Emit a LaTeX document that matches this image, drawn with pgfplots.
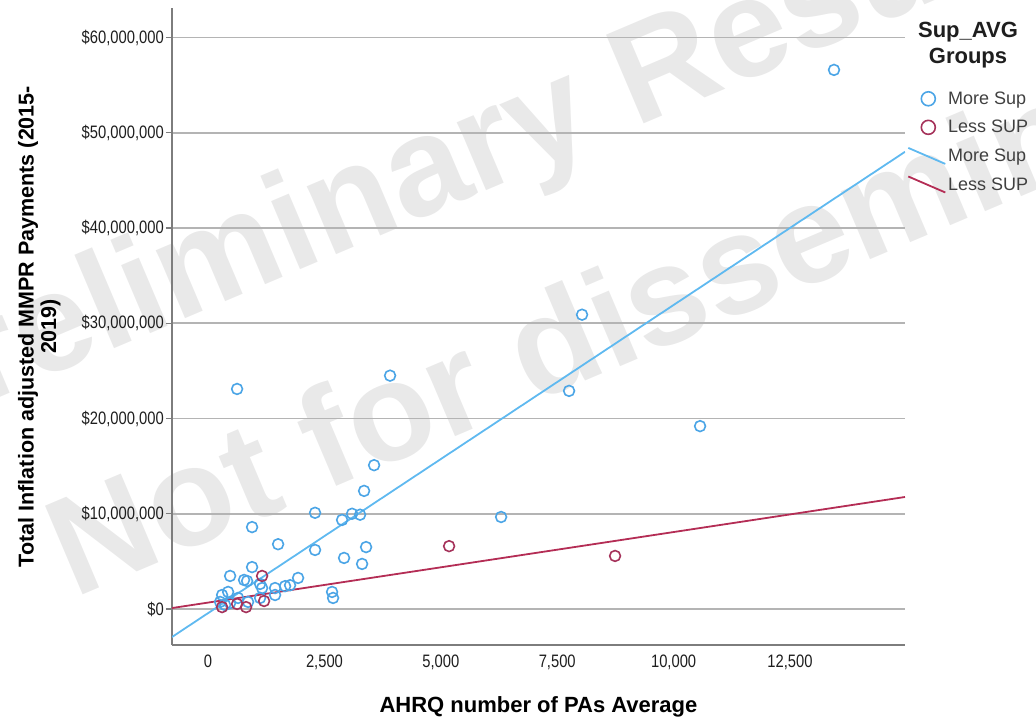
\documentclass[border=0pt]{standalone}
\usepackage{fontspec}
\setmainfont{Liberation Sans}
\newfontfamily\narrowfont[FakeStretch=0.82]{Liberation Sans}
\usepackage{pgfplots}
\pgfplotsset{compat=1.18}
\definecolor{bluept}{RGB}{75,165,230}
\definecolor{blueln}{RGB}{95,185,240}
\definecolor{redpt}{RGB}{165,50,90}
\definecolor{redln}{RGB}{180,45,85}
\definecolor{gridc}{RGB}{180,180,180}
\definecolor{axc}{RGB}{125,125,125}
\definecolor{wm}{RGB}{233,233,233}
\definecolor{txt}{RGB}{30,30,30}

\pgfplotsset{
  scatleg/.style={legend image code/.code={\path[draw=none,fill=none] (0pt,-8pt) rectangle (37pt,8pt); \draw[##1,mark size=7pt] plot coordinates {(20pt,0pt)};}},
  lineleg/.style={legend image code/.code={\path[draw=none,fill=none] (0pt,-8pt) rectangle (37pt,8pt); \draw[##1] (0pt,8pt) -- (37pt,-8pt);}},
}

\pgfplotstableread{
x y
13445 56.6
8033 30.9
3909 24.5
623 23.1
7754 22.9
10568 19.2
3566 15.1
3351 12.4
2298 10.1
3093 10.0
3265 9.9
2878 9.35
6294 9.66
945 8.6
1504 6.8
2298 6.2
3394 6.5
2921 5.36
3308 4.73
945 4.4
473 3.47
773 3.05
838 2.94
1117 2.63
1160 2.2
1439 2.2
1654 2.4
1761 2.5
1933 3.26
1439 1.47
1117 1.16
430 1.79
301 1.47
258 0.74
365 0.42
473 0.63
644 1.16
859 0.74
2663 1.79
2685 1.16
}\moresup

\pgfplotstableread{
x y
1160 3.47
1203 0.84
816 0.2
623 0.53
301 0.2
5177 6.6
8742 5.57
}\lesssup

\begin{document}
\begin{tikzpicture}[x=1pt,y=1pt]
\useasboundingbox (0,0) rectangle (1036,721);
\node[text=wm,rotate=23,font=\fontsize{140}{140}\selectfont\bfseries,inner sep=0pt] at (485,569) {Preliminary Results};
\node[text=wm,rotate=23,font=\fontsize{140}{140}\selectfont\bfseries,inner sep=0pt] at (717,450) {Not for dissemination};
\begin{axis}[
  at={(172pt,76pt)}, anchor=south west,
  scale only axis, width=733pt, height=637pt,
  xmin=-775, xmax=14970, ymin=-3.78, ymax=63.1,
  axis x line*=bottom, axis y line*=left,
  axis line style={axc, line width=1.2pt},
  scaled x ticks=false, scaled y ticks=false,
  xtick={0,2500,5000,7500,10000,12500},
  xticklabels={0,{2,500},{5,000},{7,500},{10,000},{12,500}},
  ytick={0,10,20,30,40,50,60},
  yticklabels={\$0,{\$10,000,000},{\$20,000,000},{\$30,000,000},{\$40,000,000},{\$50,000,000},{\$60,000,000}},
  ymajorgrids, grid style={gridc,line width=1.6pt},
  tick align=outside, major tick length=6pt,
  x tick style={draw=none},
  y tick style={axc, line width=1.2pt},
  xticklabel style={font=\narrowfont\fontsize{18}{18}\selectfont, text=txt},
  yticklabel style={font=\narrowfont\fontsize{18}{18}\selectfont, text=txt, inner sep=2pt},
  xlabel={AHRQ number of PAs Average},
  xlabel style={at={(axis description cs:0.5,-0.097)}, anchor=center, font=\bfseries\fontsize{22}{22}\selectfont},
  ylabel={Total Inflation adjusted MMPR Payments (2015-\\2019)},
  ylabel style={at={(axis description cs:-0.181,0.5)}, anchor=center, align=center, font=\bfseries\fontsize{21.5}{22.5}\selectfont},
  legend style={at={(axis description cs:1.003,0.872)}, anchor=north west, draw=none, fill=none,
     font=\fontsize{18}{18}\selectfont, text=txt!85!white, row sep=10.5pt, inner sep=0pt},
  legend cell align=left,
  clip=true,
]
\addplot[only marks, mark=o, mark size=5.4pt, mark options={bluept, line width=1.6pt}, scatleg]
  table {\moresup};
\addlegendentry{More Sup}
\addplot[only marks, mark=o, mark size=5.4pt, mark options={redpt, line width=1.6pt}, scatleg]
  table {\lesssup};
\addlegendentry{Less SUP}
\addplot[blueln, line width=1.8pt, lineleg]
  coordinates {(-775,-2.94) (14970,48.0)};
\addlegendentry{More Sup}
\addplot[redln, line width=1.8pt, lineleg]
  coordinates {(-775,0.1) (14970,11.76)};
\addlegendentry{Less SUP}
\end{axis}
\node[font=\bfseries\fontsize{22}{26}\selectfont, align=center, text=txt] at (968,676) {Sup\_AVG\\Groups};
\end{tikzpicture}
\end{document}
